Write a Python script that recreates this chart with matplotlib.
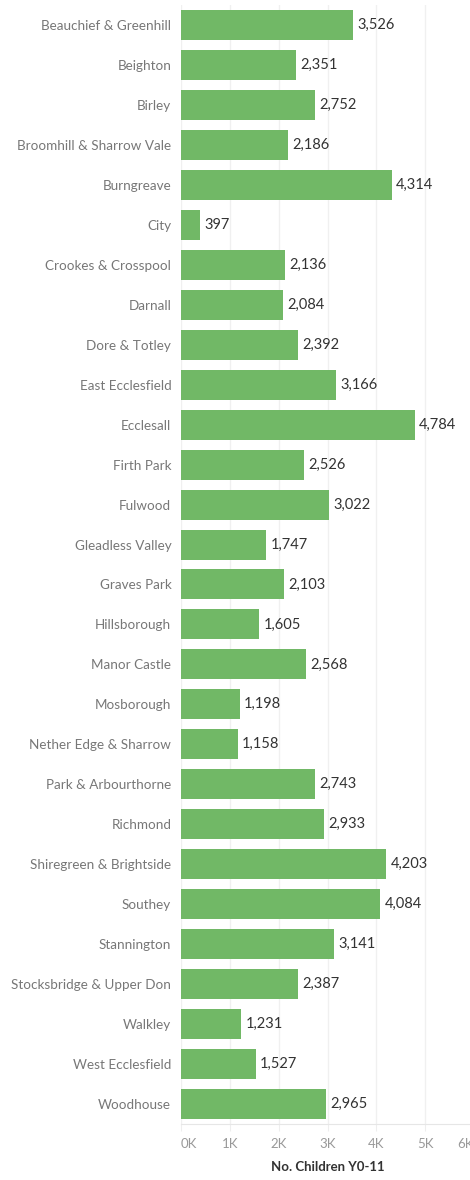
import matplotlib.pyplot as plt
import numpy as np

plt.rcParams['font.family'] = ['Lato', 'DejaVu Sans']

wards = [
    "Beauchief & Greenhill", "Beighton", "Birley", "Broomhill & Sharrow Vale",
    "Burngreave", "City", "Crookes & Crosspool", "Darnall", "Dore & Totley",
    "East Ecclesfield", "Ecclesall", "Firth Park", "Fulwood", "Gleadless Valley",
    "Graves Park", "Hillsborough", "Manor Castle", "Mosborough",
    "Nether Edge & Sharrow", "Park & Arbourthorne", "Richmond",
    "Shiregreen & Brightside", "Southey", "Stannington",
    "Stocksbridge & Upper Don", "Walkley", "West Ecclesfield", "Woodhouse",
]
children = [
    3526, 2351, 2752, 2186, 4314, 397, 2136, 2084, 2392, 3166, 4784, 2526,
    3022, 1747, 2103, 1605, 2568, 1198, 1158, 2743, 2933, 4203, 4084, 3141,
    2387, 1231, 1527, 2965,
]
xticks = [0, 1000, 2000, 3000, 4000, 5000, 6000]
xtick_labels = ["0K", "1K", "2K", "3K", "4K", "5K", "6K"]

W, H = 470, 1180
fig = plt.figure(figsize=(W / 100, H / 100), dpi=100)
# axes from x=181px to 474px, y from 5px to 1124px
ax = fig.add_axes([181 / W, 1 - 1124 / H, (474 - 181) / W, 1119 / H])

y = np.arange(len(wards))
ax.barh(y, children, height=0.75, color="#71b866", zorder=3)
ax.set_ylim(len(wards) - 0.5, -0.5)
ax.set_xlim(0, 6000)

for yi, v in zip(y, children):
    ax.text(v + 90, yi, f"{v:,}", va="center", ha="left", fontsize=10.5,
            color="#333333", zorder=4)

ax.set_yticks(y)
ax.set_yticklabels(wards, fontsize=9.7, color="#777777")
ax.tick_params(axis="y", length=0, pad=7)

ax.set_xticks(xticks)
ax.set_xticklabels(xtick_labels, fontsize=9.5, color="#999999")
ax.tick_params(axis="x", length=5, color="#eeeeee", pad=5)
lbls = ax.get_xticklabels()
lbls[0].set_ha("left")
lbls[-1].set_ha("right")

ax.grid(axis="x", color="#f0f0f0", linewidth=1, zorder=0)
for s in ["top", "right", "left"]:
    ax.spines[s].set_visible(False)
ax.spines["bottom"].set_color("#e6e6e6")

ax.set_xlabel("No. Children Y0-11", fontsize=9.5, fontweight="bold",
              color="#333333", labelpad=8)

fig.savefig("out.png", dpi=100)
